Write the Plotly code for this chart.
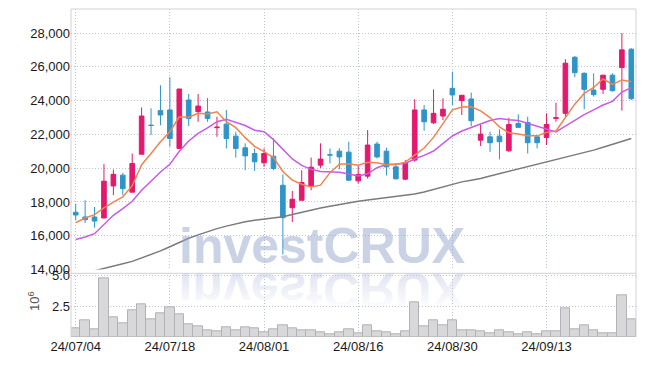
import base64
import plotly.graph_objects as go

# ---------------- data ----------------
dates = ["24/07/04","24/07/05","24/07/08","24/07/09","24/07/10","24/07/11","24/07/12","24/07/15","24/07/16","24/07/17",
         "24/07/18","24/07/19","24/07/22","24/07/23","24/07/24","24/07/25","24/07/26","24/07/29","24/07/30","24/07/31",
         "24/08/01","24/08/02","24/08/05","24/08/06","24/08/07","24/08/08","24/08/09","24/08/12","24/08/13","24/08/14",
         "24/08/16","24/08/19","24/08/20","24/08/21","24/08/22","24/08/23","24/08/26","24/08/27","24/08/28","24/08/29",
         "24/08/30","24/09/02","24/09/03","24/09/04","24/09/05","24/09/06","24/09/09","24/09/10","24/09/11","24/09/12",
         "24/09/13","24/09/19","24/09/20","24/09/23","24/09/24","24/09/25","24/09/26","24/09/27","24/09/30","24/10/02"]

open_p = [17390,17110,17110,17050,18950,19590,18580,20830,22550,23410,
          23450,21170,24040,23350,23330,22400,22610,21900,21210,20870,
          20320,20710,18990,17660,18100,18930,20180,20800,21010,20950,
          19250,19530,21430,21010,20080,19350,20480,23450,22690,23090,
          24730,24000,24100,21660,21860,21900,21030,22650,22710,21860,
          21820,22950,23250,26570,25620,24630,24670,25510,25960,27050]

high_p = [17900,18100,17700,20240,19920,19720,20870,23600,23550,24910,
          25390,24700,24400,24400,24160,23050,23450,22160,21470,21170,
          21170,21760,19630,18650,19880,20630,21470,21170,21190,21570,
          20180,22260,21570,21210,20280,20480,24080,23740,24670,24140,
          25720,24320,24480,22560,22160,22300,22990,23190,23050,21860,
          23250,23880,26460,26650,25680,25620,25510,25620,28000,27110]

low_p = [16910,16750,16480,17050,18400,18400,18580,20830,21960,22540,
         21270,21170,22500,22750,22750,21860,21170,20630,19880,19840,
         20080,19880,14890,16810,18100,18690,20020,20280,19940,19250,
         19090,19390,20580,19570,19330,19290,20380,22220,22610,22850,
         23740,23150,22500,21310,20970,20520,20970,22420,20870,21170,
         21370,22750,23050,25390,23490,24240,24400,24540,23410,24040]

close_p = [17230,16950,16870,19230,19640,18790,20280,23090,22530,23150,
           21760,24690,22950,23680,22950,22430,21760,21170,20730,20380,
           20870,19980,17070,18160,19150,20060,20540,20780,20670,19290,
           19630,21370,20670,20080,19370,20320,23450,22750,23250,23490,
           24340,24320,22810,22020,21510,21570,22590,22420,21510,21510,
           22590,22990,26220,25660,24670,24360,25510,24590,27010,24120]

volume_m = [0.70,1.37,0.62,4.73,1.59,1.10,2.12,2.63,1.42,1.91,
            2.39,1.83,1.02,0.83,0.51,0.43,0.75,0.51,0.75,0.70,
            0.38,0.62,0.91,0.70,0.51,0.51,0.35,0.19,0.35,0.62,
            0.32,0.97,0.43,0.40,0.24,0.43,2.77,0.89,1.37,0.97,
            1.37,0.51,0.56,0.48,0.30,0.56,0.35,0.24,0.40,0.24,
            0.43,0.47,2.31,0.65,0.97,0.51,0.30,0.30,3.39,1.45]

ma5 = [16773,17050,17248,17644,17985,18298,18963,20207,20867,21568,
       22162,23045,23017,23248,23208,23342,22756,22399,21809,21294,
       20983,20626,19807,19292,19046,18884,18995,19737,20240,20267,
       20180,20347,20326,20207,20223,20361,20777,21193,21826,22650,
       23454,23628,23640,23394,22998,22444,22099,22020,21917,21917,
       22123,22202,22963,23794,24428,24781,25284,24959,25228,25117]

ma10 = [15783,15922,16120,16674,17209,17605,18040,18694,19248,19777,
        20230,21004,21612,22058,22388,22752,22900,22708,22529,22251,
        22162,21691,21103,20551,20170,19933,19811,19772,19766,19657,
        19532,19671,20031,20223,20245,20271,20562,20759,21017,21436,
        21908,22203,22416,22610,22824,22949,22864,22830,22656,22458,
        22284,22151,22492,22856,23173,23452,23743,23961,24511,24773]

ma60 = [13650,13780,13920,14060,14200,14340,14480,14680,14880,15100,
        15350,15600,15850,16050,16250,16420,16570,16710,16830,16920,
        17000,17060,17120,17260,17400,17530,17640,17750,17860,17950,
        18040,18110,18180,18240,18300,18360,18470,18590,18740,18890,
        19040,19190,19290,19390,19540,19680,19800,19920,20080,20240,
        20380,20520,20640,20770,20920,21070,21240,21410,21590,21760]

x_tick_labels = ["24/07/04","24/07/18","24/08/01","24/08/16","24/08/30","24/09/13"]
price_ticks = [14000,16000,18000,20000,22000,24000,26000,28000]
volume_ticks = [2.5, 5.0]
volume_tick_text = ["2.5", "5.0"]

# ---------------- style ----------------
PINK = "#e3196d"
BLUE = "#2f95c8"
GRID = "#bcc2d8"
FRAME = "#d2d2d6"
FONT = dict(family="Liberation Sans, Arial, sans-serif", size=13, color="#1a1a1a")

fig = go.Figure()

fig.add_trace(go.Bar(x=dates, y=volume_m, xaxis="x2", yaxis="y2",
                     marker=dict(color="#d8d8da", line=dict(color="#b2b2b6", width=1)),
                     showlegend=False, hoverinfo="skip"))

fig.add_trace(go.Candlestick(x=dates, open=open_p, high=high_p, low=low_p, close=close_p,
                             increasing=dict(line=dict(color=PINK, width=1), fillcolor=PINK),
                             decreasing=dict(line=dict(color=BLUE, width=1), fillcolor=BLUE),
                             whiskerwidth=0, showlegend=False))

fig.add_trace(go.Scatter(x=dates, y=ma60, mode="lines", line=dict(color="#7b7b7b", width=1.5),
                         showlegend=False, hoverinfo="skip"))
fig.add_trace(go.Scatter(x=dates, y=ma10, mode="lines", line=dict(color="#c95ae8", width=1.5),
                         showlegend=False, hoverinfo="skip"))
fig.add_trace(go.Scatter(x=dates, y=ma5, mode="lines", line=dict(color="#f0844e", width=1.5),
                         showlegend=False, hoverinfo="skip"))

# plot area in page pixels: x 71..636, y 9..337 (page body has an 8px margin)
H_PLOT = 328.0
W_PLOT = 565.0
def py(ypx):
    return (337.0 - ypx) / H_PLOT
def px(xpx):
    return (xpx - 71.0) / W_PLOT

axis_common = dict(showgrid=True, gridcolor=GRID, griddash="1px,2px", gridwidth=1,
                   zeroline=False, showline=False, ticks="", tickfont=FONT)

fig.update_layout(
    width=629, height=350,
    margin=dict(l=63, r=1, t=1, b=21, autoexpand=False),
    paper_bgcolor="white", plot_bgcolor="rgba(0,0,0,0)",
    showlegend=False,
    bargap=0.0,
    boxgap=0.3,
    xaxis=dict(axis_common, domain=[0, 1], anchor="y", type="category",
               categoryorder="array", categoryarray=dates, range=[-0.5, 59.5], autorange=False,
               tickvals=x_tick_labels, showticklabels=False,
               rangeslider=dict(visible=False)),
    xaxis2=dict(axis_common, domain=[0, 1], anchor="y2", type="category",
                categoryorder="array", categoryarray=dates, range=[-0.5, 59.5], autorange=False,
                tickvals=x_tick_labels, ticktext=x_tick_labels, showticklabels=True),
    yaxis=dict(axis_common, domain=[py(269.5), 1], range=[14000, 29430], autorange=False,
               tickvals=price_ticks, tickformat=",d"),
    yaxis2=dict(axis_common, domain=[0, py(273.3)], range=[0, 5.14], autorange=False,
                tickvals=volume_ticks, ticktext=volume_tick_text),
)

# frame lines
shapes = [
    dict(type="line", xref="paper", yref="paper", x0=0, x1=0, y0=0, y1=1, line=dict(color=FRAME, width=1)),
    dict(type="line", xref="paper", yref="paper", x0=1, x1=1, y0=0, y1=1, line=dict(color=FRAME, width=1)),
    dict(type="line", xref="paper", yref="paper", x0=0, x1=1, y0=1, y1=1, line=dict(color=FRAME, width=1)),
    dict(type="line", xref="paper", yref="paper", x0=0, x1=1, y0=py(273.3), y1=py(273.3), line=dict(color=FRAME, width=1)),
]
fig.update_layout(shapes=shapes)

# volume unit label
fig.add_annotation(text="10<sup>6</sup>", xref="paper", yref="paper", x=px(34), y=py(301),
                   xanchor="center", yanchor="middle",
                   showarrow=False, textangle=-90, font=dict(family=FONT["family"], size=13, color="#555555"))

# watermark
fig.add_annotation(text="<b>investCRUX</b>", xref="paper", yref="paper", x=px(321.5),
                   y=py(276), xanchor="center", yanchor="bottom", showarrow=False,
                   font=dict(family="Liberation Sans, Arial, sans-serif", size=50, color="rgba(150,166,206,0.5)"))

svg = ('<svg xmlns="http://www.w3.org/2000/svg" width="320" height="60" viewBox="0 0 320 60">'
       '<defs><linearGradient id="g" x1="0" y1="0" x2="0" y2="1">'
       '<stop offset="0.15" stop-color="rgb(200,206,230)" stop-opacity="0"/>'
       '<stop offset="0.85" stop-color="rgb(200,206,230)" stop-opacity="0.6"/>'
       '</linearGradient></defs>'
       '<text x="160" y="-1" transform="scale(1,-1)" text-anchor="middle" '
       'font-family="Liberation Sans, Arial, sans-serif" font-weight="bold" font-size="50" fill="url(#g)">investCRUX</text>'
       '</svg>')
src = "data:image/svg+xml;base64," + base64.b64encode(svg.encode()).decode()
fig.add_layout_image(dict(source=src, xref="paper", yref="paper", x=px(161.5), y=py(272),
                          sizex=320 / W_PLOT, sizey=60 / H_PLOT, sizing="stretch",
                          xanchor="left", yanchor="top", layer="below", opacity=1))

fig.write_html("out.html")
